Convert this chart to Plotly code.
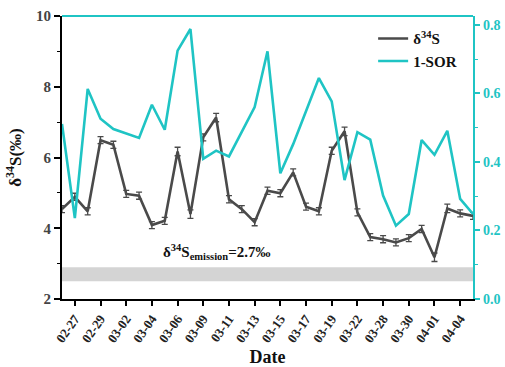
import plotly.graph_objects as go

# Sampling dates (every other one is labelled on the axis)
dates = ["02-26", "02-27", "02-28", "02-29", "03-01", "03-02", "03-03", "03-04",
         "03-05", "03-06", "03-07", "03-09", "03-10", "03-11", "03-12", "03-13",
         "03-14", "03-15", "03-16", "03-17", "03-18", "03-19", "03-20", "03-22",
         "03-23", "03-28", "03-29", "03-30", "03-31", "04-01", "04-02", "04-04",
         "04-05"]
tick_dates = ["02-27", "02-29", "03-02", "03-04", "03-06", "03-09", "03-11", "03-13",
              "03-15", "03-17", "03-19", "03-22", "03-28", "03-30", "04-01", "04-04"]

# δ34S of sulfate (‰) with analytical uncertainty
d34s = [4.54, 4.89, 4.48, 6.49, 6.36, 4.97, 4.92, 4.09,
        4.21, 6.17, 4.40, 6.57, 7.13, 4.82, 4.54, 4.17,
        5.06, 4.99, 5.58, 4.61, 4.48, 6.19, 6.74, 4.45,
        3.75, 3.69, 3.60, 3.72, 3.98, 3.18, 4.56, 4.42,
        4.35]
d34s_err = [0.10, 0.10, 0.10, 0.10, 0.10, 0.10, 0.10, 0.10,
            0.10, 0.12, 0.12, 0.10, 0.12, 0.10, 0.10, 0.10,
            0.10, 0.10, 0.10, 0.10, 0.10, 0.10, 0.12, 0.10,
            0.10, 0.10, 0.10, 0.10, 0.10, 0.12, 0.12, 0.10,
            0.10]

# 1 - sulfur oxidation ratio
one_minus_sor = [0.511, 0.236, 0.613, 0.526, 0.496, 0.484, 0.470, 0.567,
                 0.494, 0.725, 0.788, 0.409, 0.433, 0.416, 0.490, 0.560,
                 0.723, 0.367, 0.452, 0.546, 0.645, 0.577, 0.347, 0.487,
                 0.465, 0.302, 0.214, 0.248, 0.464, 0.421, 0.491, 0.292,
                 0.248]

# Emission source signature band
emission_value = 2.7
emission_low, emission_high = 2.5, 2.9

DARK = "#4a4a4a"
CYAN = "#1fc4c4"
SERIF = "Liberation Serif"

fig = go.Figure()

fig.add_trace(go.Scatter(
    x=dates, y=d34s, mode="lines", name="δ<sup>34</sup>S",
    line=dict(color=DARK, width=2.6),
    error_y=dict(type="data", array=d34s_err, visible=True,
                 color=DARK, thickness=1.3, width=3),
    yaxis="y",
))
fig.add_trace(go.Scatter(
    x=dates, y=one_minus_sor, mode="lines", name="1-SOR",
    line=dict(color=CYAN, width=2.6),
    yaxis="y2",
))

# grey band for the emission signature
fig.add_shape(type="rect", xref="paper", yref="y", x0=0, x1=1,
              y0=emission_low, y1=emission_high,
              fillcolor="#d4d4d4", line=dict(width=0), layer="below")
# cyan frame line along the top
fig.add_shape(type="line", xref="paper", yref="paper", x0=0, x1=1, y0=1, y1=1,
              line=dict(color=CYAN, width=2.2))

fig.add_annotation(
    xref="paper", yref="y", x=0.377, y=3.33, showarrow=False,
    text=f"δ<sup>34</sup>S<sub>emission</sub>={emission_value}‰",
    font=dict(family=SERIF, size=15, color="#111111", weight="bold"),
)

fig.update_layout(
    width=505, height=367,
    margin=dict(l=62, r=32, t=16, b=68, autoexpand=False),
    paper_bgcolor="white", plot_bgcolor="white",
    font=dict(family=SERIF, size=13, color="#222222", weight="bold"),
    showlegend=True,
    legend=dict(x=0.757, y=0.978, xanchor="left", yanchor="top",
                bgcolor="rgba(0,0,0,0)", borderwidth=0,
                font=dict(family=SERIF, size=15, color="#111111", weight="bold"),
                tracegroupgap=0),
    xaxis=dict(
        type="category", categoryorder="array", categoryarray=dates,
        range=[0, len(dates) - 1], automargin=False,
        tickmode="array", tickvals=tick_dates, ticktext=tick_dates,
        tickangle=-55, ticks="outside", ticklen=5, tickwidth=1.5, tickcolor="black",
        showline=True, linecolor="black", linewidth=2,
        showgrid=False, zeroline=False,
        tickfont=dict(family=SERIF, size=13, color="#222222", weight="bold"),
        title=dict(text="Date", standoff=6,
                   font=dict(family=SERIF, size=18, color="#111111", weight="bold")),
    ),
    yaxis=dict(
        range=[2, 10], tickvals=[2, 4, 6, 8, 10], automargin=False,
        ticks="outside", ticklen=6, tickwidth=1.5, tickcolor="black",
        minor=dict(tickvals=[3, 5, 7, 9], ticks="outside", ticklen=3,
                   tickwidth=1.2, tickcolor="black"),
        showline=True, linecolor="black", linewidth=2,
        showgrid=False, zeroline=False,
        tickfont=dict(family=SERIF, size=15, color="#444444", weight="bold"),
        title=dict(text="δ<sup>34</sup>S(‰)", standoff=10,
                   font=dict(family=SERIF, size=17, color="#111111", weight="bold")),
    ),
    yaxis2=dict(
        overlaying="y", side="right", range=[0, 0.826], automargin=False,
        tickvals=[0.0, 0.2, 0.4, 0.6, 0.8], tickformat=".1f",
        ticks="outside", ticklen=5, tickwidth=1.5, tickcolor=CYAN,
        minor=dict(tickvals=[0.1, 0.3, 0.5, 0.7], ticks="outside", ticklen=3,
                   tickwidth=1.2, tickcolor=CYAN),
        showline=True, linecolor=CYAN, linewidth=2.2,
        showgrid=False, zeroline=False,
        tickfont=dict(family=SERIF, size=14, color=CYAN, weight="bold"),
    ),
)

fig.write_html("out.html")
